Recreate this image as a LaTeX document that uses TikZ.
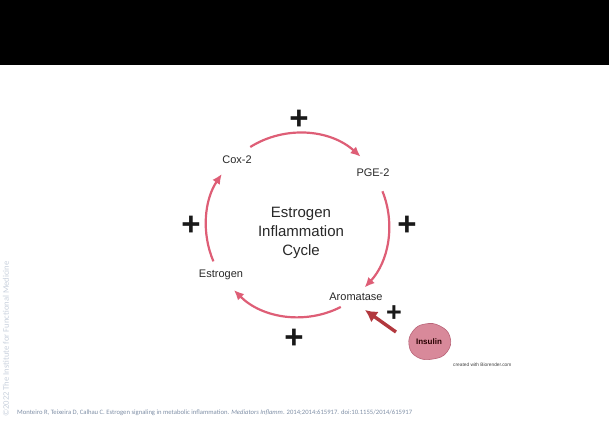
\documentclass[tikz,border=0pt]{standalone}
\usepackage{fontspec}
\setmainfont{Liberation Sans}
\newfontfamily\calfont{Carlito}
\usetikzlibrary{arrows.meta}
\definecolor{arccol}{RGB}{222,94,118}
\definecolor{insred}{RGB}{178,56,62}
\definecolor{blobfill}{RGB}{216,137,154}
\definecolor{blobdraw}{RGB}{185,100,120}
\definecolor{citecol}{RGB}{127,143,166}
\definecolor{copycol}{RGB}{200,208,220}
\definecolor{lbltext}{RGB}{40,40,40}
\begin{document}
\begin{tikzpicture}[x=1pt,y=-1pt,
  lbl/.style={font=\fontsize{11}{13}\selectfont, text=lbltext, inner sep=1pt},
  plussign/.style={font=\fontsize{33}{33}\bfseries\selectfont, inner sep=0pt, text=black!90},
  smallplus/.style={font=\fontsize{27}{27}\bfseries\selectfont, inner sep=0pt, text=black!90},
  cyc/.style={draw=arccol, line width=2.2pt, -{Latex[length=10pt,width=9pt]}},
  insarr/.style={draw=insred, line width=3.4pt, -{Latex[length=12pt,width=13pt]}},
]
\useasboundingbox (0,0) rectangle (609,424);
\fill[black] (0,0) rectangle (609,65);

\coordinate (c) at (299,225);

% labels
\node[lbl] (cox) at (237,160) {Cox-2};
\node[lbl] (pge) at (373,173) {PGE-2};
\node[lbl] (arom) at (356,297) {Aromatase};
\node[lbl] (estr) at (221,275) {Estrogen};
\node[font=\fontsize{15}{19}\selectfont, text=lbltext, align=center] (title) at (301,233) {Estrogen\\Inflammation\\Cycle};

% plus signs
\node[plussign] (p1) at (299,120) {+};
\node[plussign] (p2) at (407,226) {+};
\node[plussign] (p3) at (294,339) {+};
\node[plussign] (p4) at (191,226) {+};
\node[smallplus] (p5) at (394,314) {+};

% cycle arcs
\path (c) ++(-122:92) coordinate (a1s);
\path (c) ++(-22:90) coordinate (a2s);
\path (c) ++(63:92) coordinate (a3s);
\path (c) ++(157:93) coordinate (a4s);
\draw[cyc] (a1s) arc[start angle=-122, end angle=-48, radius=92];
\draw[cyc] (a2s) arc[start angle=-22, end angle=43, radius=91];
\draw[cyc] (a3s) arc[start angle=63, end angle=135, radius=92];
\draw[cyc] (a4s) arc[start angle=157, end angle=214, radius=92];

% insulin blob
\draw[fill=blobfill, draw=blobdraw, line width=0.6pt] plot[smooth cycle, tension=0.8] coordinates {(409,345) (413,331) (425,324) (440,326) (450,337) (447,352) (433,359) (417,357)};
\node[font=\fontsize{8}{9}\bfseries\selectfont, text=black!85!red] (ins) at (429,342) {Insulin};
\coordinate (insA) at (396,332);
\coordinate (aromT) at (365,310);
\draw[insarr] (insA) -- (aromT);

\node[font=\fontsize{4.8}{5}\selectfont, text=black!75, anchor=west, inner sep=0pt] (bio) at (453,365) {created with Biorender.com};

% citation
\node[font=\calfont\fontsize{6.65}{7}\selectfont, text=citecol, anchor=west, inner sep=0pt] (cite) at (17,413) {Monteiro R, Teixeira D, Calhau C. Estrogen signaling in metabolic inflammation. \textit{Mediators Inflamm}. 2014;2014:615917. doi:10.1155/2014/615917};

% copyright vertical
\node[font=\calfont\fontsize{8.6}{9}\selectfont, text=copycol, rotate=90, anchor=west, inner sep=0pt] (copy) at (6,417) {©2022 The Institute for Functional Medicine};
\end{tikzpicture}
\end{document}
